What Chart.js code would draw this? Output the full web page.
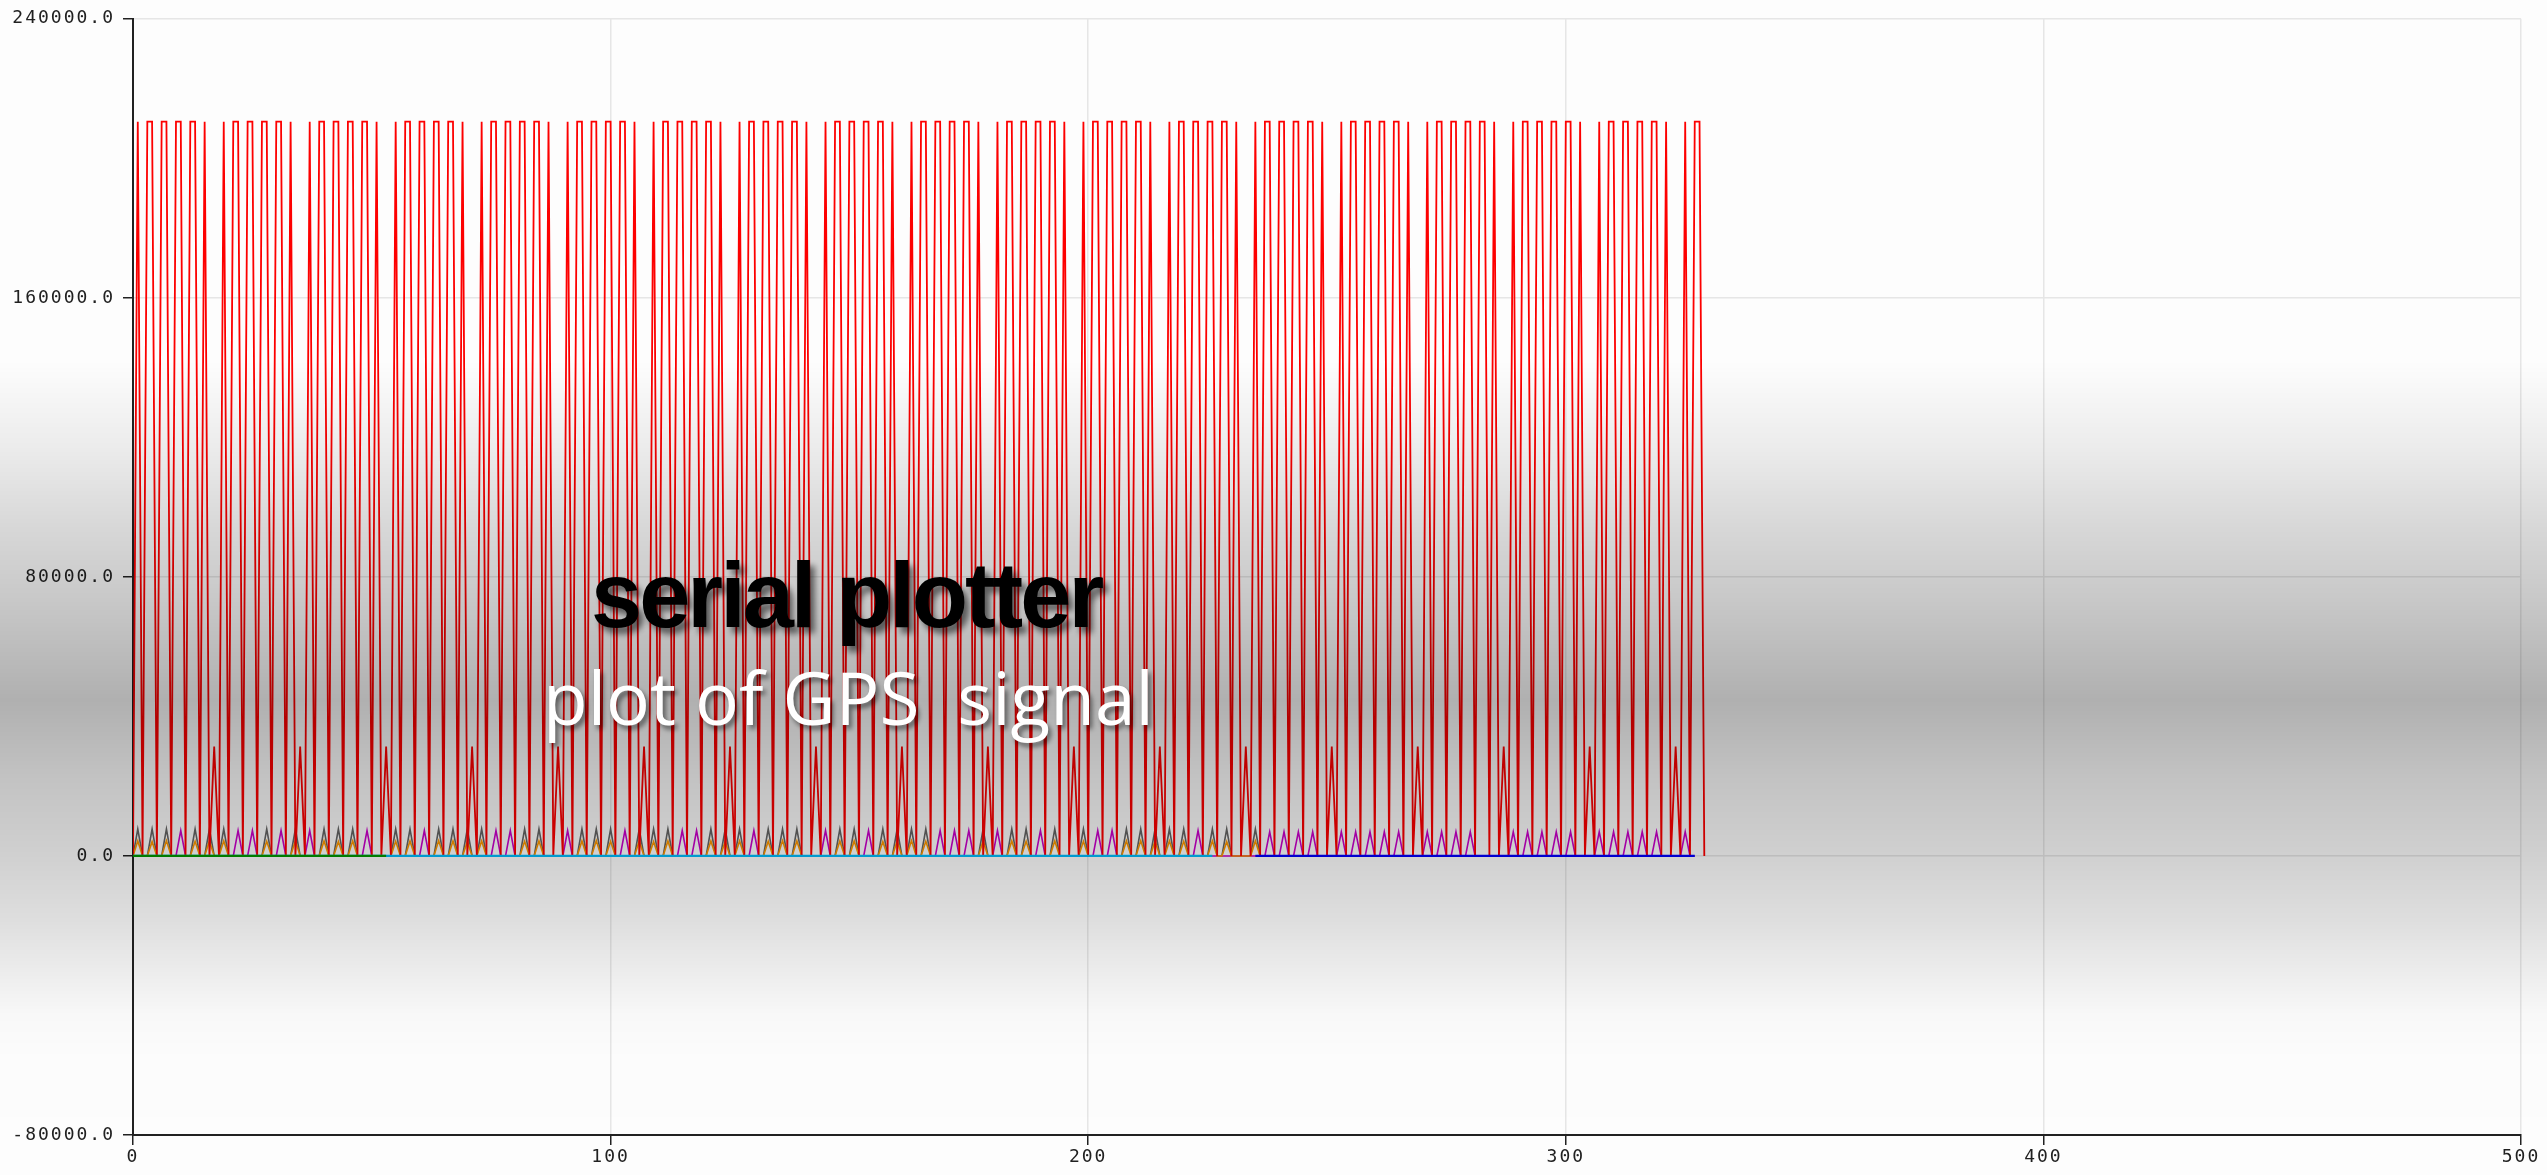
<!DOCTYPE html>
<html>
<head>
<meta charset="utf-8">
<script src="https://cdn.jsdelivr.net/npm/chart.js@4.4.0/dist/chart.umd.min.js"></script>
<style>
  html, body { margin: 0; padding: 0; background: #ffffff; }
  #wrap { position: relative; width: 2547px; height: 1175px; overflow: hidden; background: #ffffff; }
  #plot { position: absolute; left: 0; top: 0; }
  #shade { position: absolute; left: 0; top: 0; width: 2547px; height: 1175px; pointer-events: none;
    background: linear-gradient(to bottom,
      rgba(0,0,0,0.008) 0px, rgba(0,0,0,0.008) 360px, rgba(0,0,0,0.078) 450px, rgba(0,0,0,0.153) 525px,
      rgba(0,0,0,0.216) 600px, rgba(0,0,0,0.31) 700px, rgba(0,0,0,0.235) 780px, rgba(0,0,0,0.19) 850px,
      rgba(0,0,0,0.13) 920px, rgba(0,0,0,0.075) 970px, rgba(0,0,0,0.027) 1015px, rgba(0,0,0,0.01) 1060px, rgba(0,0,0,0.008) 1175px); }
  .t1 { position: absolute; left: 591px; top: 549px; font-family: 'Liberation Sans', Arial, sans-serif; font-weight: bold;
    font-size: 92px; letter-spacing: -3px; line-height: 1; color: #000; white-space: pre;
    text-shadow: 5px 6px 6px rgba(0,0,0,0.55); }
  .t2 { position: absolute; left: 543px; top: 660px; font-family: 'Open Sans', 'Noto Sans', sans-serif; font-weight: 400;
    font-size: 73px; line-height: 1; color: #fff; white-space: pre;
    text-shadow: 3px 4px 5px rgba(0,0,0,0.5); }
</style>
</head>
<body>
<div id="wrap">
  <canvas id="plot" width="2547" height="1175"></canvas>
  <div id="shade"></div>
  <div class="t1">serial plotter</div>
  <div class="t2">plot of GPS  signal</div>
</div>
<script>
// ---- axis ticks ----
const xTicks = [0, 100, 200, 300, 400, 500];
const yTicks = [-80000, 0, 80000, 160000, 240000];

// ---- series (sample index start + values) ----
const redStart = 0;
const redValues = [
  0,
  210500,0,210500,210500,0,210500,210500,0,210500,210500,0,210500,210500,0,210500,0,31400,0,
  210500,0,210500,210500,0,210500,210500,0,210500,210500,0,210500,210500,0,210500,0,31400,0,
  210500,0,210500,210500,0,210500,210500,0,210500,210500,0,210500,210500,0,210500,0,31400,0,
  210500,0,210500,210500,0,210500,210500,0,210500,210500,0,210500,210500,0,210500,0,31400,0,
  210500,0,210500,210500,0,210500,210500,0,210500,210500,0,210500,210500,0,210500,0,31400,0,
  210500,0,210500,210500,0,210500,210500,0,210500,210500,0,210500,210500,0,210500,0,31400,0,
  210500,0,210500,210500,0,210500,210500,0,210500,210500,0,210500,210500,0,210500,0,31400,0,
  210500,0,210500,210500,0,210500,210500,0,210500,210500,0,210500,210500,0,210500,0,31400,0,
  210500,0,210500,210500,0,210500,210500,0,210500,210500,0,210500,210500,0,210500,0,31400,0,
  210500,0,210500,210500,0,210500,210500,0,210500,210500,0,210500,210500,0,210500,0,31400,0,
  210500,0,210500,210500,0,210500,210500,0,210500,210500,0,210500,210500,0,210500,0,31400,0,
  210500,0,210500,210500,0,210500,210500,0,210500,210500,0,210500,210500,0,210500,0,31400,0,
  210500,0,210500,210500,0,210500,210500,0,210500,210500,0,210500,210500,0,210500,0,31400,0,
  210500,0,210500,210500,0,210500,210500,0,210500,210500,0,210500,210500,0,210500,0,31400,0,
  210500,0,210500,210500,0,210500,210500,0,210500,210500,0,210500,210500,0,210500,0,31400,0,
  210500,0,210500,210500,0,210500,210500,0,210500,210500,0,210500,210500,0,210500,0,31400,0,
  210500,0,210500,210500,0,210500,210500,0,210500,210500,0,210500,210500,0,210500,0,31400,0,
  210500,0,210500,210500,0,210500,210500,0,210500,210500,0,210500,210500,0,210500,0,31400,0,
  210500,0,210500,210500,0
];

const grayStart = 0;
const grayValues = [
  0,
  7700,0,0,7700,0,0,7700,0,0,0,0,0,7700,0,0,7700,0,0,
  7700,0,0,0,0,0,0,0,0,7700,0,0,0,0,0,7700,0,0,
  0,0,0,7700,0,0,7700,0,0,7700,0,0,0,0,0,0,0,0,
  7700,0,0,7700,0,0,0,0,0,7700,0,0,7700,0,0,7700,0,0,
  7700,0,0,0,0,0,0,0,0,7700,0,0,7700,0,0,0,0,0,
  0,0,0,7700,0,0,7700,0,0,7700,0,0,0,0,0,7700,0,0,
  7700,0,0,7700,0,0,0,0,0,0,0,0,7700,0,0,7700,0,0,
  7700,0,0,0,0,0,7700,0,0,7700,0,0,7700,0,0,0,0,0,
  0,0,0,7700,0,0,7700,0,0,0,0,0,7700,0,0,7700,0,0,
  7700,0,0,7700,0,0,0,0,0,0,0,0,0,0,0,7700,0,0,
  0,0,0,7700,0,0,7700,0,0,0,0,0,7700,0,0,0,0,0,
  7700,0,0,0,0,0,0,0,0,7700,0,0,7700,0,0,7700,0,0,
  7700,0,0,7700,0,0,0,0,0,7700,0,0,7700,0,0,0,0,0,
  7700,0
];

const orangeStart = 0;
const orangeValues = [
  0,
  4300,0,0,4100,0,0,4400,0,0,0,0,0,4200,0,0,4300,0,0,
  4300,0,0,0,0,0,0,0,0,4200,0,0,0,0,0,4400,0,0,
  0,0,0,4300,0,0,4100,0,0,4300,0,0,0,0,0,0,0,0,
  4200,0,0,4300,0,0,0,0,0,4400,0,0,4300,0,0,4100,0,0,
  4300,0,0,0,0,0,0,0,0,4200,0,0,4300,0,0,0,0,0,
  0,0,0,4300,0,0,4400,0,0,4200,0,0,0,0,0,4300,0,0,
  4100,0,0,4300,0,0,0,0,0,0,0,0,4300,0,0,4200,0,0,
  4300,0,0,0,0,0,4200,0,0,4400,0,0,4300,0,0,0,0,0,
  0,0,0,4300,0,0,4300,0,0,0,0,0,4100,0,0,4300,0,0,
  4400,0,0,4200,0,0,0,0,0,0,0,0,0,0,0,4300,0,0,
  0,0,0,4300,0,0,4200,0,0,0,0,0,4300,0,0,0,0,0,
  4200,0,0,0,0,0,0,0,0,4300,0,0,4400,0,0,4300,0,0,
  4300,0,0,4200,0,0,0,0,0,4300,0,0,4100,0,0,0,0,0,
  4300,0
];

const magentaStart = 0;
const magentaValues = [
  0,
  0,0,0,0,0,0,0,0,0,7300,0,0,0,0,0,0,0,0,
  0,0,0,7300,0,0,7300,0,0,0,0,0,7300,0,0,0,0,0,
  7300,0,0,0,0,0,0,0,0,0,0,0,7300,0,0,0,0,0,
  0,0,0,0,0,0,7300,0,0,0,0,0,0,0,0,0,0,0,
  0,0,0,7300,0,0,7300,0,0,0,0,0,0,0,0,0,0,0,
  7300,0,0,0,0,0,0,0,0,0,0,0,7300,0,0,0,0,0,
  0,0,0,0,0,0,7300,0,0,7300,0,0,0,0,0,0,0,0,
  0,0,0,7300,0,0,0,0,0,0,0,0,0,0,0,0,0,0,
  7300,0,0,0,0,0,0,0,0,7300,0,0,0,0,0,0,0,0,
  0,0,0,0,0,0,7300,0,0,7300,0,0,7300,0,0,0,0,0,
  7300,0,0,0,0,0,0,0,0,7300,0,0,0,0,0,0,0,0,
  0,0,0,7300,0,0,7300,0,0,0,0,0,0,0,0,0,0,0,
  0,0,0,0,0,0,7300,0,0,0,0,0,0,0,0,0,0,0,
  0,0,0,6900,0,0,6900,0,0,6900,0,0,6900,0,0,0,0,0,
  6900,0,0,6900,0,0,6900,0,0,6900,0,0,6900,0,0,0,0,0,
  6900,0,0,6900,0,0,6900,0,0,6900,0,0,0,0,0,0,0,0,
  6900,0,0,6900,0,0,6900,0,0,6900,0,0,6900,0,0,0,0,0,
  6900,0,0,6900,0,0,6900,0,0,6900,0,0,6900,0,0,0,0,0,
  6900,0,0
];

const cyanStart = 0;
const cyanValues = [
  0,0,0,0,0,0,0,0,0,0,0,0,0,0,0,0,0,0,
  0,0,0,0,0,0,0,0,0,0,0,0,0,0,0,0,0,0,
  0,0,0,0,0,0,0,0,0,0,0,0,0,0,0,0,0,0,
  0,0,0,0,0,0,0,0,0,0,0,0,0,0,0,0,0,0,
  0,0,0,0,0,0,0,0,0,0,0,0,0,0,0,0,0,0,
  0,0,0,0,0,0,0,0,0,0,0,0,0,0,0,0,0,0,
  0,0,0,0,0,0,0,0,0,0,0,0,0,0,0,0,0,0,
  0,0,0,0,0,0,0,0,0,0,0,0,0,0,0,0,0,0,
  0,0,0,0,0,0,0,0,0,0,0,0,0,0,0,0,0,0,
  0,0,0,0,0,0,0,0,0,0,0,0,0,0,0,0,0,0,
  0,0,0,0,0,0,0,0,0,0,0,0,0,0,0,0,0,0,
  0,0,0,0,0,0,0,0,0,0,0,0,0,0,0,0,0,0,
  0,0,0,0,0,0,0,0,0,0,0
];

const greenStart = 0;
const greenValues = [
  0,0,0,0,0,0,0,0,0,0,0,0,0,0,0,0,0,0,
  0,0,0,0,0,0,0,0,0,0,0,0,0,0,0,0,0,0,
  0,0,0,0,0,0,0,0,0,0,0,0,0,0,0,0,0,0
];

const blueStart = 235;
const blueValues = [
  0,0,0,0,0,0,0,0,0,0,0,0,0,0,0,0,0,0,
  0,0,0,0,0,0,0,0,0,0,0,0,0,0,0,0,0,0,
  0,0,0,0,0,0,0,0,0,0,0,0,0,0,0,0,0,0,
  0,0,0,0,0,0,0,0,0,0,0,0,0,0,0,0,0,0,
  0,0,0,0,0,0,0,0,0,0,0,0,0,0,0,0,0,0,
  0,0,0
];

// ---- build ----
function toPoints(start, values) {
  return values.map((v, i) => ({ x: start + i, y: v }));
}
function ds(label, color, start, values, width, order) {
  return { label, data: toPoints(start, values), borderColor: color, backgroundColor: color,
           borderWidth: width, pointRadius: 0, tension: 0, fill: false, order };
}

const letterSpacingPlugin = {
  id: 'letterSpacing',
  beforeDraw(chart) { chart.ctx.letterSpacing = '2px'; },
  afterDraw(chart) { chart.ctx.letterSpacing = '0px'; }
};

const tickFont = { family: "'DejaVu Sans Mono', monospace", size: 18 };

new Chart(document.getElementById('plot').getContext('2d'), {
  type: 'line',
  data: {
    datasets: [
      ds('green', '#009900', greenStart, greenValues, 2.2, 1),
      ds('cyan', '#00bfff', cyanStart, cyanValues, 2.2, 2),
      ds('blue', '#0000ff', blueStart, blueValues, 2.2, 3),
      ds('red', '#ff0000', redStart, redValues, 1.8, 4),
      ds('orange', '#ff9900', orangeStart, orangeValues, 1.6, 5),
      ds('magenta', '#cc00cc', magentaStart, magentaValues, 1.6, 6),
      ds('gray', '#666666', grayStart, grayValues, 1.6, 7)
    ]
  },
  options: {
    responsive: false,
    animation: false,
    devicePixelRatio: 1,
    layout: { padding: { top: 15, right: 26, left: 0, bottom: 0 } },
    plugins: { legend: { display: false }, tooltip: { enabled: false } },
    scales: {
      x: {
        type: 'linear', min: xTicks[0], max: xTicks[xTicks.length - 1],
        afterBuildTicks(scale) { scale.ticks = xTicks.map(v => ({ value: v })); },
        afterFit(scale) { scale.height = 40; },
        ticks: { font: tickFont, color: '#222', maxRotation: 0, padding: 2, callback: v => String(v) },
        grid: { color: '#e8e8e8', lineWidth: 1.5, tickColor: '#222', tickLength: 10, tickWidth: 1.5 },
        border: { color: '#222', width: 2 }
      },
      y: {
        type: 'linear', min: yTicks[0], max: yTicks[yTicks.length - 1],
        afterBuildTicks(scale) { scale.ticks = yTicks.map(v => ({ value: v })); },
        afterFit(scale) { scale.width = 133; },
        ticks: { font: tickFont, color: '#222', padding: 8, callback: v => Number(v).toFixed(1) },
        grid: { color: '#e8e8e8', lineWidth: 1.5, tickColor: '#222', tickLength: 10, tickWidth: 1.5 },
        border: { color: '#222', width: 2 }
      }
    }
  },
  plugins: [letterSpacingPlugin]
});
</script>
</body>
</html>
